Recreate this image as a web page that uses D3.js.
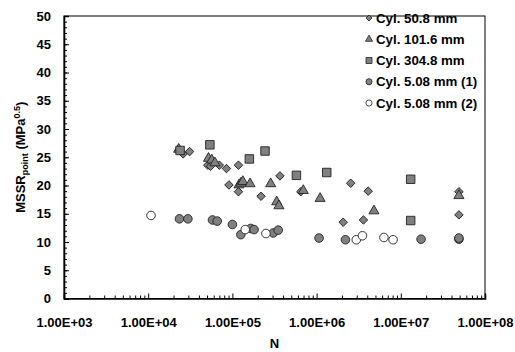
<!DOCTYPE html>
<html>
<head>
<meta charset="utf-8">
<script src="https://cdn.jsdelivr.net/npm/d3@7"></script>
<style>
  body { margin: 0; background: #fff; }
  text { font-family: "Liberation Sans", Arial, sans-serif; font-weight: bold; fill: #000; }
</style>
</head>
<body>
<div id="chart"></div>
<script>
// series names
const seriesNames = ["Cyl. 50.8 mm", "Cyl. 101.6 mm", "Cyl. 304.8 mm", "Cyl. 5.08 mm (1)", "Cyl. 5.08 mm (2)"];

// [N, MSSR]
const cyl508 = [
  [2.6e4, 25.6], [3.1e4, 26.0], [5.1e4, 23.6], [5.5e4, 23.4], [7.0e4, 23.6], [8.5e4, 23.0],
  [9.1e4, 20.1], [1.18e5, 23.6], [1.18e5, 18.9], [2.19e5, 18.1], [3.67e5, 21.7], [6.5e5, 18.9],
  [2.07e6, 13.5], [2.54e6, 20.4], [3.6e6, 13.9], [4.1e6, 19.0], [4.9e7, 18.9], [4.9e7, 14.8]
];
const cyl1016 = [
  [2.3e4, 26.4], [5.2e4, 24.8], [5.7e4, 24.5], [6.2e4, 24.0], [1.2e5, 20.1], [1.26e5, 20.4],
  [1.33e5, 20.7], [1.62e5, 20.3], [2.85e5, 20.3], [3.36e5, 17.1], [3.57e5, 16.4], [6.95e5, 19.1],
  [1.1e6, 17.7], [4.8e6, 15.5], [4.9e7, 18.2]
];
const cyl3048 = [
  [2.39e4, 26.2], [5.4e4, 27.2], [1.59e5, 24.7], [2.44e5, 26.1], [5.76e5, 21.8], [1.32e6, 22.3],
  [1.31e7, 21.1], [1.31e7, 13.8]
];
const cyl508a = [
  [2.35e4, 14.1], [2.96e4, 14.1], [5.8e4, 13.9], [6.6e4, 13.7], [1.0e5, 13.1], [1.26e5, 11.3],
  [1.65e5, 12.4], [1.81e5, 12.2], [3.06e5, 11.6], [3.5e5, 12.1], [1.07e6, 10.7], [2.2e6, 10.4],
  [1.74e7, 10.5], [4.9e7, 10.5], [4.9e7, 10.7]
];
const cyl508b = [
  [1.08e4, 14.7], [1.42e5, 12.2], [2.5e5, 11.5], [2.96e6, 10.4], [3.5e6, 11.1], [6.3e6, 10.8],
  [8.1e6, 10.4]
];

const xTicks = [1e3, 1e4, 1e5, 1e6, 1e7, 1e8];
const yTicks = [0, 5, 10, 15, 20, 25, 30, 35, 40, 45, 50];

const width = 515, height = 352;
const margin = {left: 64, right: 30, top: 16, bottom: 53.5};

const svg = d3.select("#chart").append("svg")
  .attr("width", width)
  .attr("height", height);

const x = d3.scaleLog().domain([1e3, 1e8]).range([margin.left, width - margin.right]);
const y = d3.scaleLinear().domain([0, 50]).range([height - margin.bottom, margin.top]);

// frame
svg.append("rect")
  .attr("x", x.range()[0]).attr("y", y.range()[1])
  .attr("width", x.range()[1] - x.range()[0])
  .attr("height", y.range()[0] - y.range()[1])
  .attr("fill", "none").attr("stroke", "#000").attr("stroke-width", 1);

// minor ticks x
let xMinor = [];
for (let d = 3; d < 8; d++) for (let m = 2; m < 10; m++) xMinor.push(m * Math.pow(10, d));

svg.append("g")
  .attr("transform", `translate(0,${y(0)})`)
  .call(d3.axisBottom(x).tickValues(xMinor).tickSize(-3).tickFormat(""))
  .call(g => g.select(".domain").remove());

svg.append("g")
  .attr("transform", `translate(0,${y(0)})`)
  .call(d3.axisBottom(x).tickValues(xTicks).tickSize(-5).tickPadding(19)
    .tickFormat(d => d.toExponential(2).toUpperCase().replace("E+", "E+0")))
  .call(g => g.select(".domain").attr("stroke-width", 1.6))
  .call(g => g.selectAll("text").attr("font-size", 13));

// y axis
svg.append("g")
  .attr("transform", `translate(${x(1e3)},0)`)
  .call(d3.axisLeft(y).tickValues(d3.range(0, 51, 1)).tickSize(-3).tickFormat(""))
  .call(g => g.select(".domain").remove());

svg.append("g")
  .attr("transform", `translate(${x(1e3)},0)`)
  .call(d3.axisLeft(y).tickValues(yTicks).tickSize(-5).tickPadding(13))
  .call(g => g.select(".domain").attr("stroke-width", 1.6))
  .call(g => g.selectAll("text").attr("font-size", 13));

// axis titles
svg.append("text")
  .attr("x", (x.range()[0] + x.range()[1]) / 2)
  .attr("y", 347.5)
  .attr("text-anchor", "middle")
  .attr("font-size", 13)
  .text("N");

const yt = svg.append("text")
  .attr("transform", `translate(25,${(y.range()[0] + y.range()[1]) / 2}) rotate(-90)`)
  .attr("text-anchor", "middle")
  .attr("font-size", 13);
yt.append("tspan").text("MSSR");
yt.append("tspan").attr("font-size", 9).attr("dy", 3).text("point");
yt.append("tspan").attr("dy", -3).text(" (MPa");
yt.append("tspan").attr("font-size", 9).attr("dy", -5).text("0.5");
yt.append("tspan").attr("dy", 5).text(")");

// markers
const gray = "#808080", edge = "#222";
const styles = [
  {sym: d3.symbolSquare, size: 36, rot: 45, fill: gray, lsize: 18},
  {sym: d3.symbolTriangle, size: 44, rot: 0, fill: gray, lsize: 22},
  {sym: d3.symbolSquare, size: 72, rot: 0, fill: gray, lsize: 36},
  {sym: d3.symbolCircle, size: 58, rot: 0, fill: gray, lsize: 30},
  {sym: d3.symbolCircle, size: 58, rot: 0, fill: "#fff", lsize: 30}
];
const allSeries = [cyl508, cyl1016, cyl3048, cyl508a, cyl508b];

allSeries.forEach((data, i) => {
  const st = styles[i];
  svg.append("g").selectAll("path")
    .data(data).enter().append("path")
    .attr("d", d3.symbol().type(st.sym).size(st.size))
    .attr("transform", d => `translate(${x(d[0])},${y(d[1])}) rotate(${st.rot})`)
    .attr("fill", st.fill)
    .attr("stroke", edge)
    .attr("stroke-width", 0.9);
});

// legend
const leg = svg.append("g");
seriesNames.forEach((name, i) => {
  const st = styles[i];
  const ly = 18 + i * 21.25;
  leg.append("path")
    .attr("d", d3.symbol().type(st.sym).size(st.lsize))
    .attr("transform", `translate(369,${ly}) rotate(${st.rot})`)
    .attr("fill", st.fill)
    .attr("stroke", edge)
    .attr("stroke-width", 0.8);
  leg.append("text")
    .attr("x", 376)
    .attr("y", ly + 4.7)
    .attr("font-size", 13.3)
    .text(name);
});
</script>
</body>
</html>
